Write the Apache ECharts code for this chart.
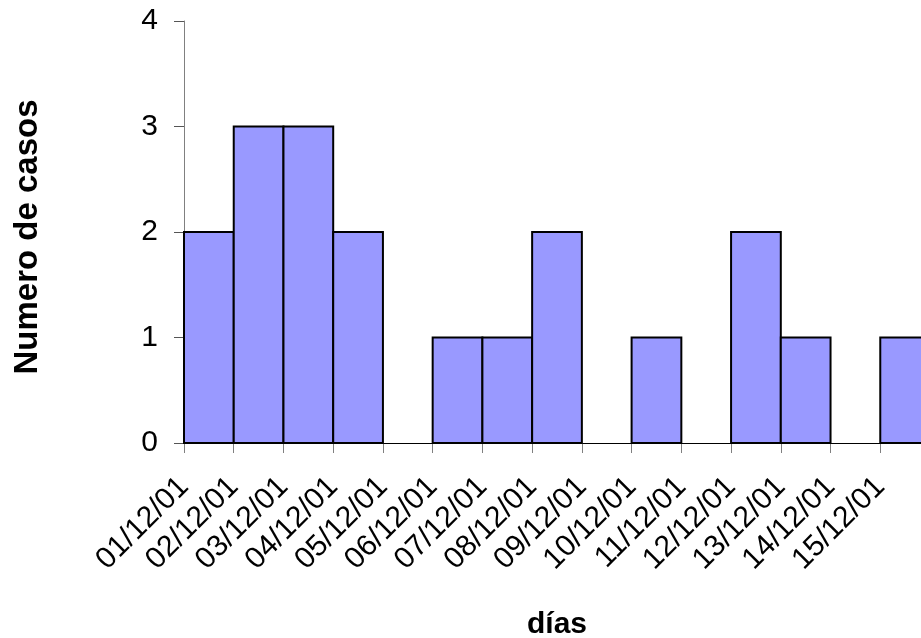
<!DOCTYPE html>
<html>
<head>
<meta charset="utf-8">
<script src="https://cdn.jsdelivr.net/npm/echarts@6/dist/echarts.min.js"></script>
<style>
html,body{margin:0;padding:0;background:#fff;}
#c{width:921px;height:638px;}
</style>
</head>
<body>
<div id="c"></div>
<script>
const categories = ['01/12/01','02/12/01','03/12/01','04/12/01','05/12/01','06/12/01','07/12/01','08/12/01','09/12/01','10/12/01','11/12/01','12/12/01','13/12/01','14/12/01','15/12/01'];
const cases = [2,3,3,2,0,1,1,2,0,1,0,2,1,0,1];
const yTicks = [0,1,2,3,4];
const xTitle = 'días';
const yTitle = 'Numero de casos';

const chart = echarts.init(document.getElementById('c'), null, {renderer:'canvas'});
const FONT = 'Liberation Sans, Arial, sans-serif';
const data = cases.map((v,i)=>[i, v]);

chart.setOption({
  backgroundColor:'#ffffff',
  animation:false,
  grid:{left:184, top:21, width:746, height:422, containLabel:false, outerBoundsMode:'none'},
  xAxis:{
    type:'value', min:0, max:categories.length, interval:1,
    name:xTitle, nameLocation:'middle', nameGap:167,
    nameTextStyle:{fontFamily:FONT, fontSize:30, fontWeight:'bold', color:'#000'},
    axisLine:{show:true, onZero:false, lineStyle:{color:'#000', width:1}},
    axisTick:{show:true, length:10, inside:false, lineStyle:{color:'#808080', width:1}},
    splitLine:{show:false},
    axisLabel:{
      rotate:45, fontFamily:FONT, fontSize:30, color:'#000', margin:39,
      verticalAlign:'middle', padding:[4,0,0,0],
      showMinLabel:true, showMaxLabel:true, hideOverlap:false,
      formatter:function(v){ const i=Math.round(v); return (Math.abs(v-i)<1e-6 && i>=0 && i<categories.length)? categories[i] : ''; }
    }
  },
  yAxis:{
    type:'value', min:yTicks[0], max:yTicks[yTicks.length-1], interval:1,
    name:yTitle, nameLocation:'middle', nameGap:140, nameRotate:90,
    nameTextStyle:{fontFamily:FONT, fontSize:33, fontWeight:'bold', color:'#000', padding:[0,10,0,0]},
    axisLine:{show:true, lineStyle:{color:'#808080', width:1}},
    axisTick:{show:true, length:10, inside:false, lineStyle:{color:'#555', width:1}},
    splitLine:{show:false},
    axisLabel:{fontFamily:FONT, fontSize:30, color:'#000', margin:26}
  },
  series:[{
    type:'custom',
    data:data,
    encode:{x:0, y:1},
    clip:false,
    renderItem:function(params, api){
      const x = api.value(0), v = api.value(1);
      if (!v) return null;
      const p0 = api.coord([x, v]);
      const p1 = api.coord([x+1, 0]);
      return {
        type:'rect',
        shape:{x:p0[0], y:p0[1], width:p1[0]-p0[0], height:p1[1]-p0[1]},
        style:{fill:'#9999FF', stroke:'#000', lineWidth:2}
      };
    }
  }]
});
</script>
</body>
</html>
